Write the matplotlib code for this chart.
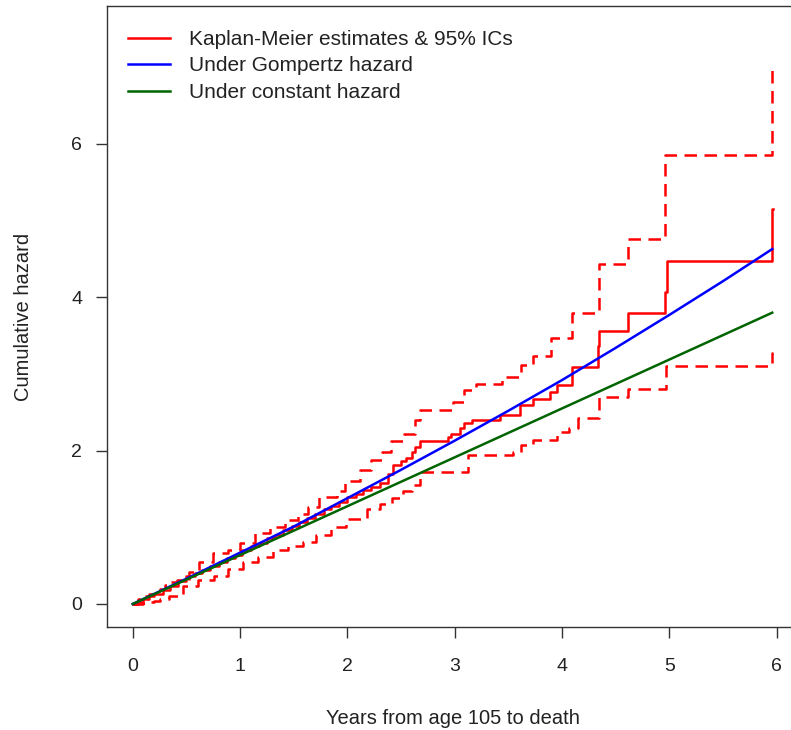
import matplotlib
matplotlib.use("Agg")
import matplotlib.pyplot as plt

plt.rcParams['font.family'] = ['Liberation Sans', 'DejaVu Sans']

# Kaplan-Meier cumulative hazard (step function)
km_t = [0.0, 0.05, 0.10, 0.15, 0.20, 0.28, 0.35, 0.42, 0.50, 0.58, 0.65, 0.72, 0.80, 0.88, 0.95,
        1.02, 1.10, 1.18, 1.25, 1.33, 1.40, 1.48, 1.55, 1.62, 1.70, 1.78, 1.85, 1.92, 2.00,
        2.08, 2.15, 2.22, 2.30, 2.38, 2.43, 2.50, 2.55, 2.60, 2.63, 2.675, 2.94, 2.97, 3.05,
        3.09, 3.16, 3.42, 3.61, 3.73, 3.89, 3.95, 4.09, 4.34, 4.35, 4.62, 4.96, 4.98, 5.96, 5.965]
km_h = [0.0, 0.03, 0.06, 0.10, 0.13, 0.18, 0.24, 0.30, 0.36, 0.41, 0.45, 0.50, 0.55, 0.60, 0.64,
        0.70, 0.76, 0.80, 0.86, 0.90, 0.96, 1.02, 1.07, 1.12, 1.18, 1.24, 1.28, 1.33, 1.39,
        1.44, 1.49, 1.53, 1.58, 1.70, 1.81, 1.86, 1.90, 1.98, 2.05, 2.12, 2.18, 2.22, 2.30,
        2.36, 2.40, 2.46, 2.60, 2.68, 2.77, 2.86, 3.09, 3.37, 3.56, 3.79, 4.07, 4.48, 5.15, 5.15]

# Upper 95% confidence limit
up_t = [0.0, 0.05, 0.10, 0.15, 0.20, 0.25, 0.30, 0.35, 0.41, 0.52, 0.62, 0.75, 0.89, 1.00,
        1.14, 1.28, 1.42, 1.54, 1.63, 1.74, 1.90, 1.98, 2.12, 2.22, 2.32, 2.41, 2.53, 2.63,
        2.675, 2.95, 2.985, 3.09, 3.20, 3.44, 3.62, 3.73, 3.90, 4.09, 4.35, 4.62, 4.96, 5.96, 5.965]
up_h = [0.0, 0.06, 0.10, 0.13, 0.17, 0.20, 0.25, 0.29, 0.31, 0.42, 0.55, 0.66, 0.70, 0.79,
        0.92, 1.00, 1.09, 1.18, 1.27, 1.40, 1.48, 1.61, 1.75, 1.88, 1.98, 2.12, 2.22, 2.40,
        2.53, 2.53, 2.64, 2.79, 2.87, 2.96, 3.12, 3.23, 3.47, 3.79, 4.43, 4.76, 5.86, 7.05, 7.05]

# Lower 95% confidence limit
lo_t = [0.0, 0.05, 0.10, 0.15, 0.20, 0.25, 0.34, 0.47, 0.61, 0.76, 0.89, 1.03, 1.17, 1.31,
        1.45, 1.59, 1.71, 1.85, 1.99, 2.18, 2.30, 2.42, 2.52, 2.60, 2.675, 2.95, 3.125, 3.54,
        3.62, 3.73, 3.95, 4.07, 4.15, 4.35, 4.62, 4.97, 5.96, 5.965]
lo_h = [0.0, 0.00, 0.01, 0.02, 0.04, 0.07, 0.11, 0.24, 0.31, 0.37, 0.46, 0.55, 0.61, 0.70,
        0.76, 0.81, 0.90, 1.00, 1.11, 1.24, 1.30, 1.38, 1.48, 1.55, 1.72, 1.72, 1.94, 1.98,
        2.07, 2.14, 2.25, 2.29, 2.42, 2.70, 2.81, 3.10, 3.28, 3.28]

# Fitted curves
gomp_t = [0.0, 0.5, 1.0, 1.5, 2.0, 2.5, 3.0, 3.5, 4.0, 4.5, 5.0, 5.5, 5.96]
gomp_h = [0.0, 0.33, 0.67, 1.01, 1.38, 1.75, 2.13, 2.52, 2.92, 3.34, 3.77, 4.21, 4.63]
const_t = [0.0, 5.96]
const_h = [0.0, 3.80]

labels = ["Kaplan-Meier estimates & 95% ICs", "Under Gompertz hazard", "Under constant hazard"]
xticks = [0, 1, 2, 3, 4, 5, 6]
yticks = [0, 2, 4, 6]

W, H = 791, 730
fig = plt.figure(figsize=(W / 100, H / 100), dpi=100)
ax = fig.add_axes([107 / W, 1 - 627 / H, (798 - 107) / W, (627 - 6) / H])

lw = 2.5 * 72 / 100
ax.plot(km_t, km_h, drawstyle='steps-post', color='#ff0000', lw=lw, label=labels[0])
ax.plot(up_t, up_h, drawstyle='steps-post', color='#ff0000', lw=lw, dashes=(5, 3))
ax.plot(lo_t, lo_h, drawstyle='steps-post', color='#ff0000', lw=lw, dashes=(5, 3))
ax.plot(gomp_t, gomp_h, color='#0000ff', lw=lw, label=labels[1])
ax.plot(const_t, const_h, color='#006400', lw=lw, label=labels[2])

ax.set_xlim(-0.24, 6.2)
ax.set_ylim(-0.3, 7.8)
ax.set_xticks(xticks)
ax.set_yticks(yticks)
ax.tick_params(direction='out', length=8, width=1, color='#333333', labelsize=14,
               labelcolor='#222222')
ax.tick_params(axis='x', pad=14)
ax.tick_params(axis='y', pad=10)
for s in ax.spines.values():
    s.set_color('#333333')
    s.set_linewidth(1)

ax.set_xlabel("Years from age 105 to death", fontsize=14.5, color='#222222', labelpad=25)
ax.set_ylabel("Cumulative hazard", fontsize=14.5, color='#222222', labelpad=27)

ax.legend(loc='upper left', bbox_to_anchor=(0.0, 0.995), frameon=False, fontsize=15,
          handlelength=2.0, handletextpad=0.95, labelspacing=0.36, borderaxespad=0.0,
          borderpad=1.0, labelcolor='#222222')

fig.savefig("out.png", dpi=100)
